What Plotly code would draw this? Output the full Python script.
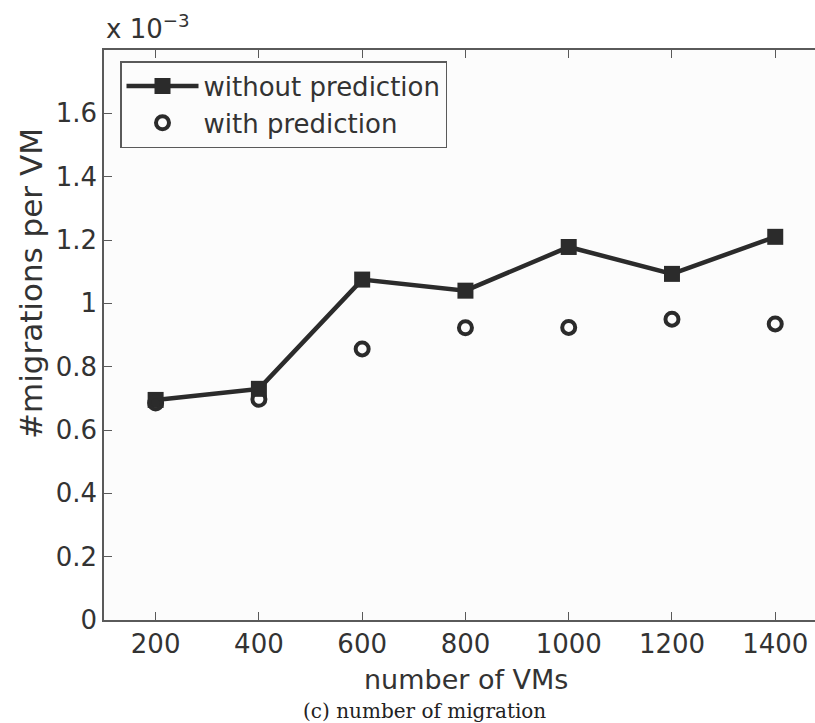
import plotly.graph_objects as go

# ---- data (values in units of 1e-3) ----
num_vms = [200, 400, 600, 800, 1000, 1200, 1400]
without_prediction = [0.695, 0.73, 1.075, 1.04, 1.178, 1.093, 1.21]
with_prediction = [0.685, 0.697, 0.856, 0.923, 0.924, 0.950, 0.935]

y_tick_vals = [0, 0.2, 0.4, 0.6, 0.8, 1.0, 1.2, 1.4, 1.6]
y_tick_text = ["0", "0.2", "0.4", "0.6", "0.8", "1", "1.2", "1.4", "1.6"]
x_tick_vals = [200, 400, 600, 800, 1000, 1200, 1400]
x_tick_text = ["200", "400", "600", "800", "1000", "1200", "1400"]

DARK = "#2b2b2b"
AXIS = "#5a5a5a"
FONT = "DejaVu Sans"

fig = go.Figure()
fig.add_trace(go.Scatter(
    x=num_vms, y=without_prediction, name="without prediction",
    mode="lines+markers",
    line=dict(color=DARK, width=4.5),
    marker=dict(symbol="square", size=16, color=DARK),
))
fig.add_trace(go.Scatter(
    x=num_vms, y=with_prediction, name="with prediction",
    mode="markers",
    marker=dict(symbol="circle-open", size=13, color=DARK, line=dict(width=4, color=DARK)),
))

fig.update_layout(
    width=815, height=723,
    margin=dict(l=104, r=0, t=50, b=103),
    paper_bgcolor="white",
    plot_bgcolor="#fcfcfc",
    font=dict(family=FONT, size=26, color="#333333"),
    showlegend=True,
    legend=dict(
        x=(120 - 104) / 711, y=1 - (61 - 50) / 570,
        xanchor="left", yanchor="top",
        bgcolor="rgba(0,0,0,0)",
        bordercolor=AXIS, borderwidth=1.5,
        font=dict(family=FONT, size=26, color="#333333"),
        itemwidth=72,
        tracegroupgap=0,
    ),
    xaxis=dict(
        range=[100, 1477],
        tickvals=x_tick_vals, ticktext=x_tick_text,
        ticks="inside", ticklen=8, tickcolor=AXIS, tickwidth=1,
        showline=True, linecolor=AXIS, linewidth=1.5,
        mirror="allticks",
        showgrid=False, zeroline=False,
        tickfont=dict(family=FONT, size=26, color="#333333"),
    ),
    yaxis=dict(
        range=[0, 1.8],
        tickvals=y_tick_vals, ticktext=y_tick_text,
        ticks="inside", ticklen=8, tickcolor=AXIS, tickwidth=1,
        showline=True, linecolor=AXIS, linewidth=1.5,
        mirror=False,
        showgrid=False, zeroline=False,
        tickfont=dict(family=FONT, size=26, color="#333333"),
    ),
)

# exponent label
fig.add_annotation(
    xref="paper", yref="paper", x=0, y=1, xanchor="left", yanchor="bottom",
    yshift=4, text="x 10<sup>−3</sup>", showarrow=False,
    font=dict(family=FONT, size=26, color="#333333"),
)
# y axis title
fig.add_annotation(
    xref="paper", yref="paper", x=(31 - 104) / 711, y=1 - (284 - 50) / 570,
    xanchor="center", yanchor="middle", textangle=-90,
    text="#migrations per VM", showarrow=False,
    font=dict(family=FONT, size=31, color="#333333"),
)
# x axis title
fig.add_annotation(
    xref="paper", yref="paper", x=(466 - 104) / 711, y=-(680 - 620) / 570,
    xanchor="center", yanchor="middle",
    text="number of VMs", showarrow=False,
    font=dict(family=FONT, size=27, color="#333333"),
)
# caption
fig.add_annotation(
    xref="paper", yref="paper", x=(424 - 104) / 711, y=-(711 - 620) / 570,
    xanchor="center", yanchor="middle",
    text="(c) number of migration", showarrow=False,
    font=dict(family="DejaVu Serif", size=20, color="#222222"),
)

fig.write_html(
    "out.html",
    config={"displayModeBar": False},
    post_script="document.body.style.margin='0';document.body.style.overflow='hidden';",
)
